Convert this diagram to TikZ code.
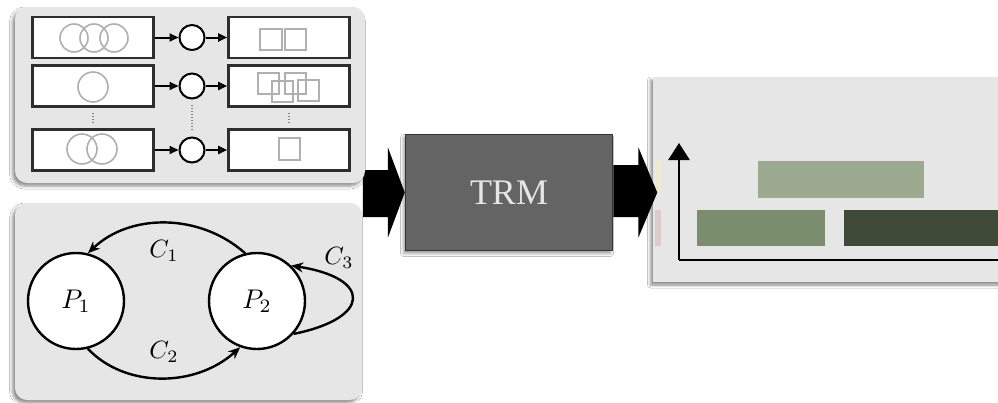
\documentclass[tikz,border=0pt]{standalone}
\usepackage{fontspec}
\newfontfamily\trmfont{Liberation Serif}
\usetikzlibrary{shadows.blur,arrows.meta,calc}

\definecolor{panelgray}{HTML}{E6E6E6}
\definecolor{boxedge}{HTML}{2E2E2E}
\definecolor{tokgray}{HTML}{B0B0B0}
\definecolor{trmfill}{HTML}{646464}
\definecolor{trmedge}{HTML}{363636}
\definecolor{barlight}{HTML}{9CAA8F}
\definecolor{barmid}{HTML}{7A8D6C}
\definecolor{bardark}{HTML}{3F4A37}
\definecolor{stripcream}{HTML}{F1E9D3}
\definecolor{strippink}{HTML}{DBCBCB}

% math labels set at 10pt and enlarged
\newcommand{\biglabel}[2][2.7]{\scalebox{#1}{$#2$}}

\begin{document}
\begin{tikzpicture}[x=1pt,y=-1pt,
  panel/.style={fill=panelgray, draw=none,
    blur shadow={shadow xshift=-2.5pt, shadow yshift=-3pt,
      shadow blur radius=3pt, shadow opacity=45}},
  seqbox/.style={draw=boxedge, line width=2.6pt, fill=white,
    minimum width=121pt, minimum height=41pt, inner sep=0pt},
  opnode/.style={circle, draw=black, line width=2pt, fill=white,
    minimum size=25pt, inner sep=0pt},
  token/.style={draw=tokgray, line width=1.6pt},
  flow/.style={line width=2pt, -{Triangle[length=9pt,width=8pt]}},
  gap/.style={draw=gray, line width=1.2pt, dash pattern=on 1.5pt off 1.5pt},
  place/.style={circle, draw=black, line width=2.4pt, fill=white,
    minimum size=96pt, inner sep=0pt},
  trans/.style={line width=2.4pt, -{Stealth[length=12pt,width=10pt]}},
  lbl/.style={inner sep=0pt},
  blockarrow/.style={fill=black},
  axis/.style={line width=2.8pt, draw=black},
  unit/.style={draw=trmedge, line width=1.5pt, fill=trmfill,
    minimum width=207pt, minimum height=116pt, inner sep=0pt,
    blur shadow={shadow xshift=-2pt, shadow yshift=-3pt,
      shadow blur radius=3pt, shadow opacity=40},
    text=white!90!black, font=\trmfont\fontsize{36}{40}\selectfont},
]
\clip (0,0) rectangle (998,402);
\fill[white] (0,0) rectangle (998,402);

% processing unit in the middle
\node[unit] (trm) at (509,192.5) {TRM};

% input block arrow (its tail runs under the two input panels)
\fill[blockarrow]
  ($(trm.west)+(-42,-22.5)$) -- ($(trm.west)+(-17,-22.5)$)
  -- ($(trm.west)+(-17,-45.5)$) -- (trm.west)
  -- ($(trm.west)+(-17,45.5)$) -- ($(trm.west)+(-17,24.5)$)
  -- ($(trm.west)+(-42,24.5)$) -- cycle;

% ---- sequence panel ----
\fill[panel, rounded corners=12pt] (15,7) rectangle (365,183);

\foreach \i/\y in {1/37.5, 2/86, 3/150}{
  \node[seqbox] (l\i) at (93,\y) {};
  \node[opnode] (o\i) at (192,\y) {};
  \node[seqbox] (r\i) at (289,\y) {};
  \draw[flow] (l\i) -- (o\i);
  \draw[flow] (o\i) -- (r\i);
}
% input tokens
\draw[token] (74,38) circle (14) (94,38) circle (14) (114,38) circle (14);
\draw[token] (93,87) circle (15);
\draw[token] (82,149) circle (15) (102,149) circle (15);
% output tokens
\draw[token] (260,29) rectangle (282,50) (285,29) rectangle (306,50);
\draw[token] (258,73) rectangle (279,94) (272,81) rectangle (293,102)
             (285,73) rectangle (306,94) (298,80) rectangle (319,101);
\draw[token] (279,138) rectangle (300,160);
% elided rows
\foreach \c in {l,o,r}{
  \draw[gap] ($(\c2.south)+(0,5)$) -- ($(\c3.north)+(0,-6)$);
}

% ---- state graph panel ----
\fill[panel, rounded corners=12pt] (15,203) rectangle (362,400);
\node[place] (p1) at (76,301) {\biglabel{P_1}};
\node[place] (p2) at (257,301) {\biglabel{P_2}};
\draw[trans] (p2.104) .. controls (200,213) and (130,213) .. (p1.76);
\draw[trans] (p1.-76) .. controls (125,388) and (195,388) .. (p2.-110);
\draw[trans] (p2.-42) .. controls (372,318) and (372,278) .. (p2.46);
\node[lbl] (c1) at (164,251) {\biglabel[2.5]{C_1}};
\node[lbl] (c2) at (164,352) {\biglabel[2.5]{C_2}};
\node[lbl] (c3) at (339,258) {\biglabel[2.5]{C_3}};

% ---- schedule panel ----
\fill[panel] (653,77) rectangle (1010,282);
\fill[stripcream] (655,160) rectangle (661,196);
\fill[strippink] (655,210) rectangle (661,246);
\coordinate (origin) at (679,260);
\draw[axis, -{Triangle[length=17pt,width=21pt]}] (origin) -- (679,143);
\draw[axis] (origin) -- (1005,260);
\fill[barlight] (758,161) rectangle (924,198);
\fill[barmid] (697,210) rectangle (825,246);
\fill[bardark] (844,210) rectangle (1005,246);

% output block arrow
\fill[blockarrow]
  ($(trm.east)+(0,-27.5)$) -- ($(trm.east)+(25,-27.5)$)
  -- ($(trm.east)+(25,-45.5)$) -- ($(trm.east)+(44,0)$)
  -- ($(trm.east)+(25,45.5)$) -- ($(trm.east)+(25,24.5)$)
  -- ($(trm.east)+(0,24.5)$) -- cycle;
\end{tikzpicture}
\end{document}
